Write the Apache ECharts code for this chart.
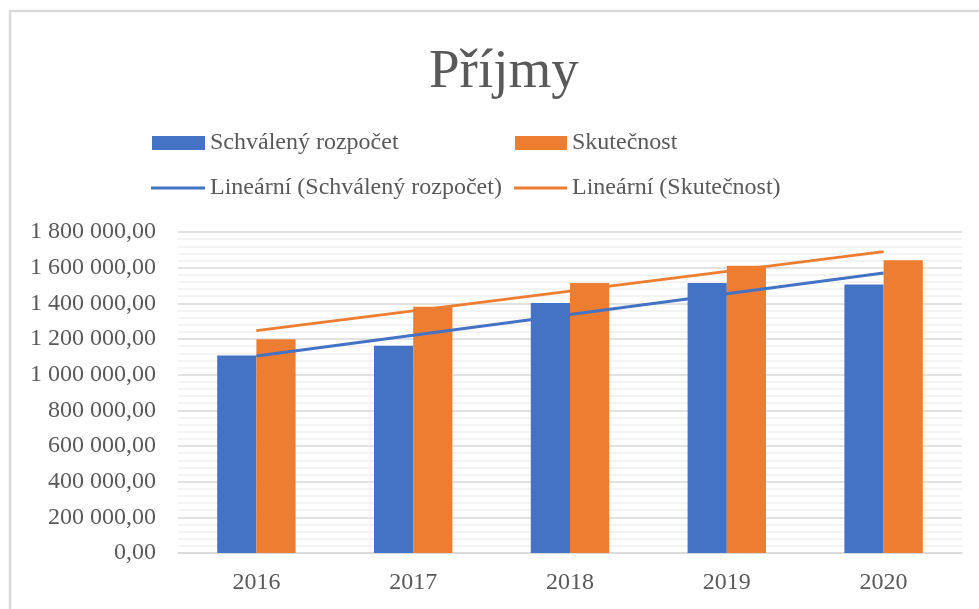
<!DOCTYPE html>
<html>
<head>
<meta charset="utf-8">
<script src="https://cdn.jsdelivr.net/npm/echarts@6/dist/echarts.min.js"></script>
<style>
html,body{margin:0;padding:0;background:#fff;}
#chart{width:979px;height:609px;}
</style>
</head>
<body>
<div id="chart"></div>
<script>
const categories = ['2016', '2017', '2018', '2019', '2020'];
const schvaleny = [1108000, 1162000, 1402000, 1514000, 1506000];
const skutecnost = [1198000, 1381000, 1514000, 1611000, 1641000];
// trend lines: endpoints
const trendSchvaleny = [1105000, null, null, null, 1570000];
const trendSkutecnost = [1247000, null, null, null, 1690000];
const yTicks = [0, 200000, 400000, 600000, 800000, 1000000, 1200000, 1400000, 1600000, 1800000];

const names = ['Schválený rozpočet', 'Skutečnost', 'Lineární (Schválený rozpočet)', 'Lineární (Skutečnost)'];
const BLUE = '#4472C4', ORANGE = '#ED7D31', TXT = '#595959';
const FONT = 'Liberation Serif';

function fmt(v) {
  const s = Math.round(v).toString().replace(/\B(?=(\d{3})+(?!\d))/g, ' ');
  return s + ',00';
}

const chart = echarts.init(document.getElementById('chart'), null, {renderer: 'canvas'});
const legendText = {color: TXT, fontFamily: FONT, fontSize: 24};
chart.setOption({
  animation: false,
  backgroundColor: '#fff',
  title: {
    text: 'Příjmy', left: 424, top: 40,
    textStyle: {color: TXT, fontFamily: FONT, fontSize: 55, fontWeight: 'normal'}
  },
  graphic: [{
    type: 'rect', shape: {x: 10, y: 11, width: 1100, height: 1000},
    style: {fill: 'none', stroke: '#d9d9d9', lineWidth: 2.5}, silent: true
  }],
  legend: [
    {data: [names[0]], left: 147, top: 126, itemWidth: 53, itemHeight: 14, icon: 'rect', textStyle: legendText},
    {data: [names[1]], left: 510, top: 126, itemWidth: 52, itemHeight: 14, icon: 'rect', textStyle: legendText},
    {data: [names[2]], left: 146, top: 171, itemWidth: 54, itemHeight: 3, icon: 'rect', textStyle: legendText},
    {data: [names[3]], left: 509, top: 171, itemWidth: 53, itemHeight: 3, icon: 'rect', textStyle: legendText}
  ],
  grid: {left: 178, right: 17, top: 232, bottom: 56, containLabel: false},
  xAxis: {
    type: 'category', data: categories,
    axisLine: {lineStyle: {color: '#d9d9d9', width: 1.5}},
    axisTick: {show: false},
    axisLabel: {color: TXT, fontFamily: FONT, fontSize: 24, margin: 18}
  },
  yAxis: {
    type: 'value', min: yTicks[0], max: yTicks[yTicks.length - 1], interval: yTicks[1] - yTicks[0],
    axisLine: {show: false}, axisTick: {show: false},
    axisLabel: {color: TXT, fontFamily: FONT, fontSize: 24, margin: 22, formatter: fmt},
    splitLine: {lineStyle: {color: '#d9d9d9', width: 1.5}},
    minorTick: {show: false, splitNumber: 5},
    minorSplitLine: {show: true, lineStyle: {color: '#efefef', width: 1.5}}
  },
  series: [
    {name: names[0], type: 'bar', data: schvaleny, itemStyle: {color: BLUE}, barGap: '0%', barCategoryGap: '50%'},
    {name: names[1], type: 'bar', data: skutecnost, itemStyle: {color: ORANGE}, barGap: '0%', barCategoryGap: '50%'},
    {name: names[2], type: 'line', data: trendSchvaleny, connectNulls: true, symbol: 'none', z: 5,
      itemStyle: {color: BLUE}, lineStyle: {color: BLUE, width: 3}},
    {name: names[3], type: 'line', data: trendSkutecnost, connectNulls: true, symbol: 'none', z: 5,
      itemStyle: {color: ORANGE}, lineStyle: {color: ORANGE, width: 3}}
  ]
});
</script>
</body>
</html>
